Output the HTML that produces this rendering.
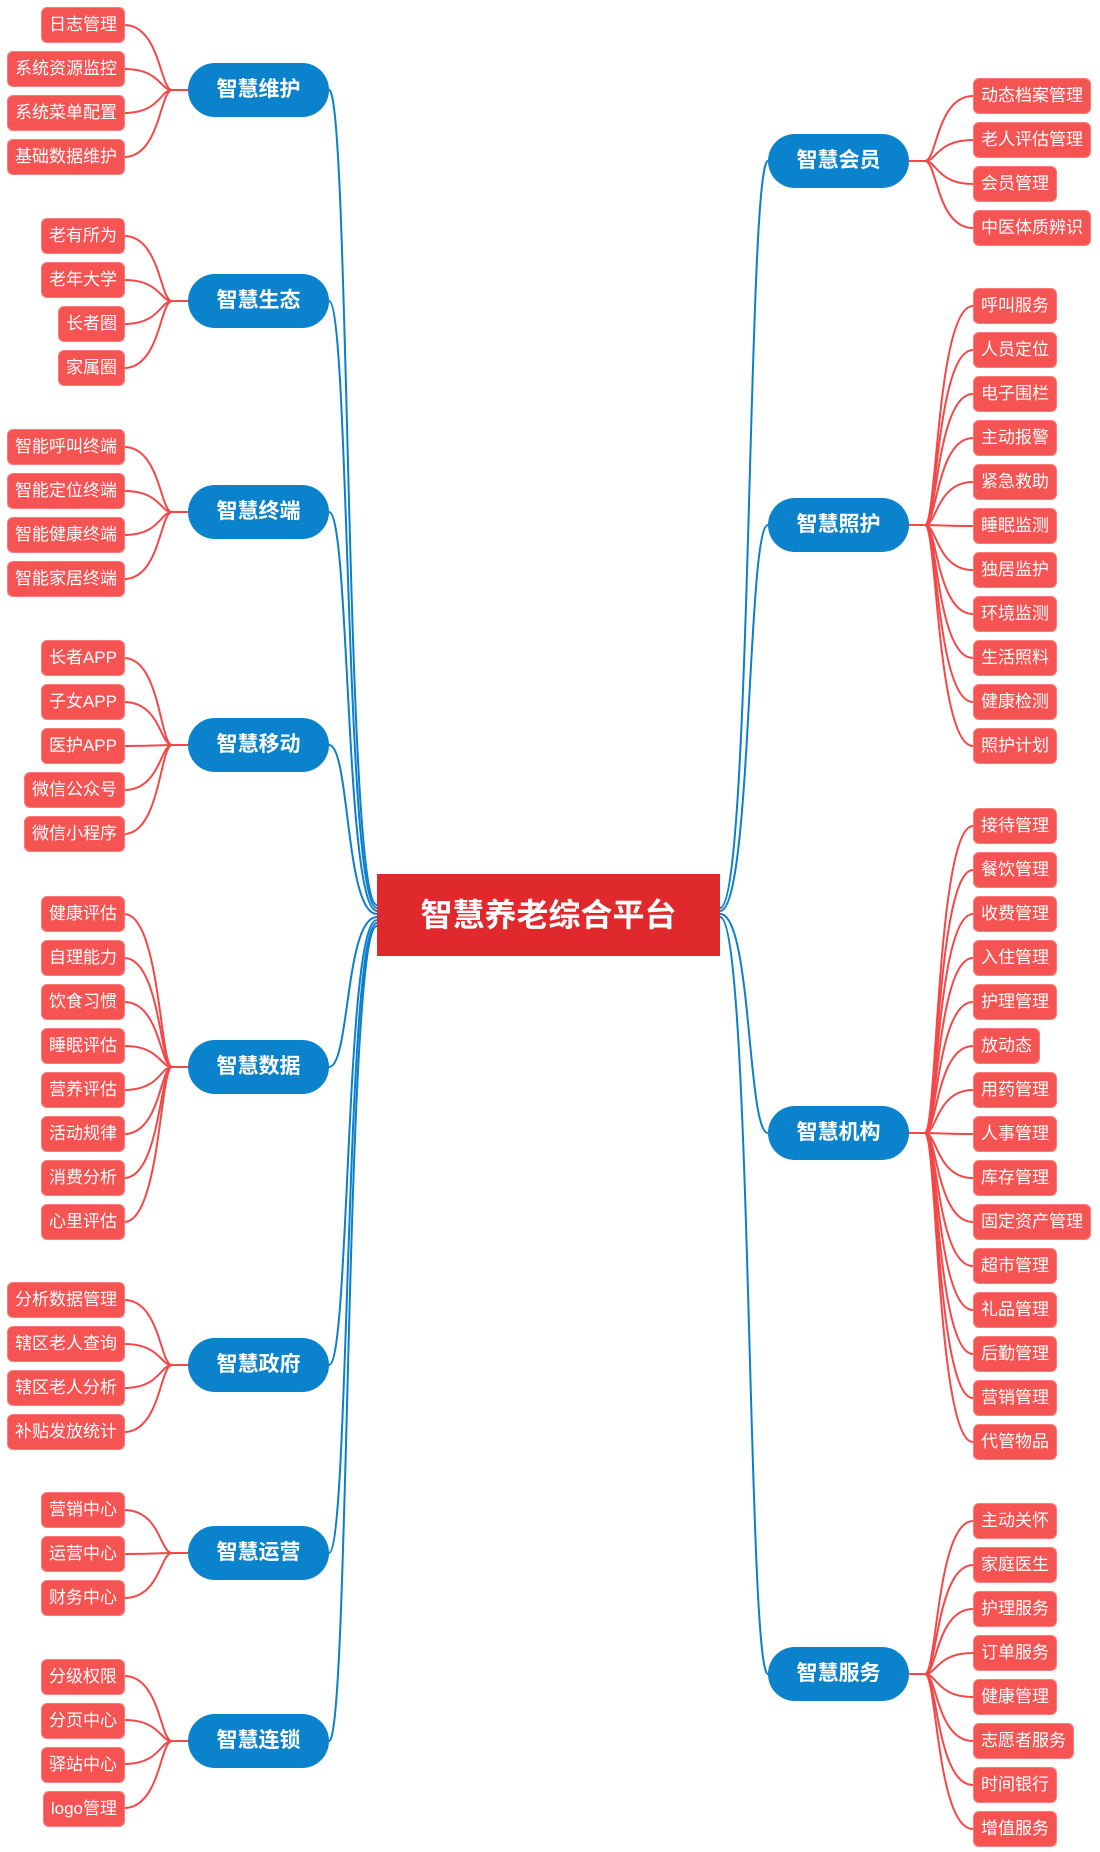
<!DOCTYPE html>
<html><head><meta charset="utf-8"><style>
body{margin:0;width:1100px;height:1852px;position:relative;background:#fff;font-family:"Liberation Sans","Noto Sans CJK SC",sans-serif;overflow:hidden}
svg{position:absolute;left:0;top:0}
.l{position:absolute;height:34px;line-height:34px;padding:0 7px;background:#f65353;border:1px solid #fb7a7a;border-radius:6px;color:#fff;font-size:17px;white-space:nowrap;margin-top:2px}
.L{right:975px}.R{left:973px}
.b{position:absolute;width:141px;height:54px;line-height:54px;border-radius:27px;background:#0a82cc;color:#fff;font-size:21px;font-weight:bold;text-align:center;margin-top:1px}
.bl{left:188px}.br{left:768px}
.c{position:absolute;left:377px;top:874px;width:343px;height:82px;line-height:82px;background:#e0292d;color:#fff;font-size:32px;font-weight:bold;text-align:center}
</style></head><body>
<svg id="s" width="1100" height="1852"></svg>
<div class="c">智慧养老综合平台</div>

<div class="b bl" style="top:62px">智慧维护</div>
<div class="l L" style="top:5px">日志管理</div><div class="l L" style="top:49px">系统资源监控</div><div class="l L" style="top:93px">系统菜单配置</div><div class="l L" style="top:137px">基础数据维护</div>

<div class="b bl" style="top:273px">智慧生态</div>
<div class="l L" style="top:216px">老有所为</div><div class="l L" style="top:260px">老年大学</div><div class="l L" style="top:304px">长者圈</div><div class="l L" style="top:348px">家属圈</div>

<div class="b bl" style="top:484px">智慧终端</div>
<div class="l L" style="top:427px">智能呼叫终端</div><div class="l L" style="top:471px">智能定位终端</div><div class="l L" style="top:515px">智能健康终端</div><div class="l L" style="top:559px">智能家居终端</div>

<div class="b bl" style="top:717px">智慧移动</div>
<div class="l L" style="top:638px">长者APP</div><div class="l L" style="top:682px">子女APP</div><div class="l L" style="top:726px">医护APP</div><div class="l L" style="top:770px">微信公众号</div><div class="l L" style="top:814px">微信小程序</div>

<div class="b bl" style="top:1039px">智慧数据</div>
<div class="l L" style="top:894px">健康评估</div><div class="l L" style="top:938px">自理能力</div><div class="l L" style="top:982px">饮食习惯</div><div class="l L" style="top:1026px">睡眠评估</div><div class="l L" style="top:1070px">营养评估</div><div class="l L" style="top:1114px">活动规律</div><div class="l L" style="top:1158px">消费分析</div><div class="l L" style="top:1202px">心里评估</div>

<div class="b bl" style="top:1337px">智慧政府</div>
<div class="l L" style="top:1280px">分析数据管理</div><div class="l L" style="top:1324px">辖区老人查询</div><div class="l L" style="top:1368px">辖区老人分析</div><div class="l L" style="top:1412px">补贴发放统计</div>

<div class="b bl" style="top:1525px">智慧运营</div>
<div class="l L" style="top:1490px">营销中心</div><div class="l L" style="top:1534px">运营中心</div><div class="l L" style="top:1578px">财务中心</div>

<div class="b bl" style="top:1713px">智慧连锁</div>
<div class="l L" style="top:1657px">分级权限</div><div class="l L" style="top:1701px">分页中心</div><div class="l L" style="top:1745px">驿站中心</div><div class="l L" style="top:1789px">logo管理</div>

<div class="b br" style="top:133px">智慧会员</div>
<div class="l R" style="top:76px">动态档案管理</div><div class="l R" style="top:120px">老人评估管理</div><div class="l R" style="top:164px">会员管理</div><div class="l R" style="top:208px">中医体质辨识</div>

<div class="b br" style="top:497px">智慧照护</div>
<div class="l R" style="top:286px">呼叫服务</div><div class="l R" style="top:330px">人员定位</div><div class="l R" style="top:374px">电子围栏</div><div class="l R" style="top:418px">主动报警</div><div class="l R" style="top:462px">紧急救助</div><div class="l R" style="top:506px">睡眠监测</div><div class="l R" style="top:550px">独居监护</div><div class="l R" style="top:594px">环境监测</div><div class="l R" style="top:638px">生活照料</div><div class="l R" style="top:682px">健康检测</div><div class="l R" style="top:726px">照护计划</div>

<div class="b br" style="top:1105px">智慧机构</div>
<div class="l R" style="top:806px">接待管理</div><div class="l R" style="top:850px">餐饮管理</div><div class="l R" style="top:894px">收费管理</div><div class="l R" style="top:938px">入住管理</div><div class="l R" style="top:982px">护理管理</div><div class="l R" style="top:1026px">放动态</div><div class="l R" style="top:1070px">用药管理</div><div class="l R" style="top:1114px">人事管理</div><div class="l R" style="top:1158px">库存管理</div><div class="l R" style="top:1202px">固定资产管理</div><div class="l R" style="top:1246px">超市管理</div><div class="l R" style="top:1290px">礼品管理</div><div class="l R" style="top:1334px">后勤管理</div><div class="l R" style="top:1378px">营销管理</div><div class="l R" style="top:1422px">代管物品</div>

<div class="b br" style="top:1646px">智慧服务</div>
<div class="l R" style="top:1501px">主动关怀</div><div class="l R" style="top:1545px">家庭医生</div><div class="l R" style="top:1589px">护理服务</div><div class="l R" style="top:1633px">订单服务</div><div class="l R" style="top:1677px">健康管理</div><div class="l R" style="top:1721px">志愿者服务</div><div class="l R" style="top:1765px">时间银行</div><div class="l R" style="top:1809px">增值服务</div>

<script>
var s=document.getElementById('s'),h='';
function p(d,c,w){h+='<path d="'+d+'" fill="none" stroke="'+c+'" stroke-width="'+w+'"/>';}
var L=[[90,4],[301,4],[512,4],[745,5],[1067,8],[1365,4],[1553,3],[1741,4]];
var R=[[161,4],[525,11],[1133,15],[1674,8]];
L.forEach(function(g,i){var y=g[0],n=g[1],y0=y-(n-1)*22+1,cy=905+i*3;
 p('M377 '+cy+' C345 '+cy+' 350 '+y+' 329 '+y,'#0a7fcc',2);
 p('M188 '+y+' L172 '+y,'#f44848',2);
 for(var k=0;k<n;k++){var ly=y0+k*44;p('M172 '+y+' C160 '+y+' 160 '+ly+' 124 '+ly,'#f44848',2);}
});
R.forEach(function(g,i){var y=g[0],n=g[1],y0=y-(n-1)*22+1,cy=908+i*3;
 p('M720 '+cy+' C752 '+cy+' 747 '+y+' 768 '+y,'#0a7fcc',2);
 p('M909 '+y+' L925 '+y,'#f44848',2);
 for(var k=0;k<n;k++){var ly=y0+k*44;p('M925 '+y+' C937 '+y+' 937 '+ly+' 973 '+ly,'#f44848',2);}
});
s.innerHTML=h;
</script>
</body></html>
